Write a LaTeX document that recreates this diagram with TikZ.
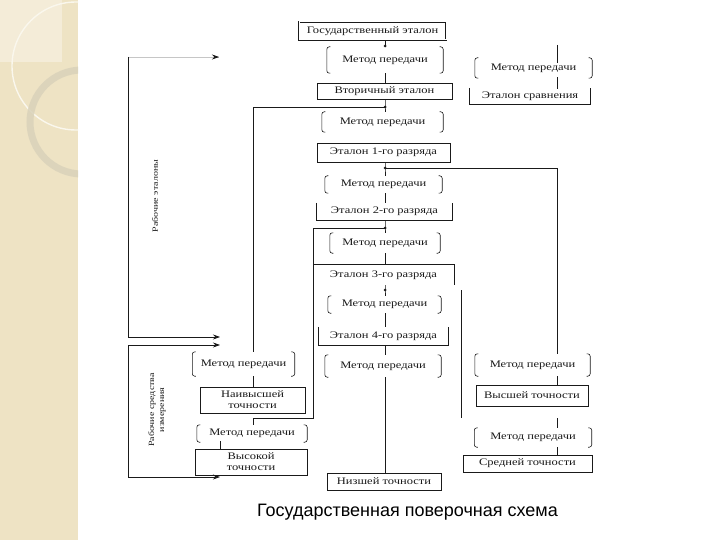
\documentclass[tikz,border=0pt]{standalone}
\usepackage{fontspec}
\setmainfont{Liberation Serif}
\newfontfamily\dg[FakeStretch=1.25]{Liberation Serif}
\newfontfamily\capfont{Liberation Sans}
\usetikzlibrary{arrows.meta}
\definecolor{strip}{HTML}{EEE3C4}
\definecolor{stripl}{HTML}{F4ECD8}
\definecolor{ringc}{HTML}{D9D2BA}
\definecolor{ln}{HTML}{1A1A1A}
\tikzset{
  txt/.style={inner sep=0pt, text=ln, font=\dg\fontsize{10}{11}\selectfont, align=center},
  box/.style={txt, draw=ln, line width=0.7pt},
  ubox/.style={txt},
  meth/.style={txt},
  brk/.style={draw=ln, line width=0.6pt, rounded corners=2.5pt},
  conn/.style={draw=ln, line width=0.7pt},
  jdot/.style={circle, fill=ln, inner sep=0pt, minimum size=3pt},
  arr/.style={conn, -{Stealth[length=7pt,width=5pt]}},
  lab/.style={inner sep=0pt, text=ln, font=\dg\fontsize{8}{10}\selectfont, align=center, rotate=90}
}
\begin{document}
\begin{tikzpicture}[x=1pt,y=-1pt]
\useasboundingbox (0,0) rectangle (720,540);
\fill[white] (0,0) rectangle (720,540);
% decorative strip
\fill[strip] (0,0) rectangle (78,540);
\fill[stripl] (0,0) rectangle (62,62);
\begin{scope}
\clip (0,0) rectangle (78,540);
\draw[white!70!strip, line width=1.4pt] (76,66) circle (64);
\draw[ringc, line width=7pt, opacity=0.85] (82,122) circle (52);
\end{scope}

% boxes
\node[box, double, double distance=1pt, minimum width=147pt, minimum height=18pt] (gos) at (372.5,31) {Государственный эталон};
\node[meth, minimum width=116pt, minimum height=26pt] (m0) at (385,60) {Метод передачи};
\node[box, minimum width=135pt, minimum height=16pt] (vtor) at (384.5,91) {Вторичный эталон};
\node[meth, minimum width=117pt, minimum height=20pt] (mR) at (533.5,68) {Метод передачи};
\node[ubox, minimum width=120pt, minimum height=16pt] (sravn) at (530,96) {Эталон сравнения};
\node[meth, minimum width=121pt, minimum height=20pt] (m1) at (382.5,122) {Метод передачи};
\node[box, minimum width=133pt, minimum height=19pt] (e1) at (383.5,152.5) {Эталон 1-го разряда};
\node[meth, minimum width=117pt, minimum height=17pt] (m2) at (383.5,184.5) {Метод передачи};
\node[ubox, minimum width=135pt, minimum height=17pt] (e2) at (384.5,211.5) {Эталон 2-го разряда};
\node[meth, minimum width=110pt, minimum height=20pt] (m3) at (385,243) {Метод передачи};
\node[ubox, minimum width=141pt, minimum height=20pt] (e3) at (383.5,275) {Эталон 3-го разряда};
\node[meth, minimum width=113pt, minimum height=17pt] (m4) at (384.5,304.5) {Метод передачи};
\node[ubox, minimum width=129pt, minimum height=18pt] (e4) at (383.5,336) {Эталон 4-го разряда};
\node[meth, minimum width=116pt, minimum height=22pt] (m5) at (383,366) {Метод передачи};
\node[box, minimum width=114pt, minimum height=17pt] (nizsh) at (384,481.5) {Низшей точности};
\node[meth, minimum width=102pt, minimum height=24pt] (mL1) at (243.5,364) {Метод передачи};
\node[box, minimum width=105pt, minimum height=26pt] (naiv) at (252.5,400) {Наивысшей\\точности};
\node[meth, minimum width=110pt, minimum height=17pt] (mL2) at (252,433.5) {Метод передачи};
\node[box, minimum width=112pt, minimum height=26pt] (vysok) at (251,462) {Высокой\\точности};
\node[meth, minimum width=115pt, minimum height=22pt] (mR1) at (532.5,365) {Метод передачи};
\node[box, minimum width=112pt, minimum height=21pt] (vyssh) at (532,395.5) {Высшей точности};
\node[meth, minimum width=117pt, minimum height=19pt] (mR2) at (533,437.5) {Метод передачи};
\node[box, minimum width=129pt, minimum height=17pt] (sredn) at (527.5,463.5) {Средней точности};

% open boxes
\draw[conn] (sravn.north west) -- (sravn.south west) -- (sravn.south east) -- (sravn.north east);
\draw[conn] (e2.north west) -- (e2.south west) -- (e2.south east) -- (e2.north east);
\draw[conn] (e3.north west) -- (e3.north east) -- (e3.south east);
\draw[conn] (e4.north west) -- (e4.south west) -- (e4.south east) -- (e4.north east);

% brackets
\foreach \m in {m0,mR,m1,m2,m3,m4,m5,mL1,mL2,mR1,mR2}{
  \draw[brk] ([xshift=3.5pt]\m.north west) -- (\m.north west) -- (\m.south west) -- ([xshift=3.5pt]\m.south west);
  \draw[brk] ([xshift=-3.5pt]\m.north east) -- (\m.north east) -- (\m.south east) -- ([xshift=-3.5pt]\m.south east);
}

% coordinates
\coordinate (j1) at (385,107);
\coordinate (j2) at (385,168);
\coordinate (j3) at (385,228);
\coordinate (j4) at (385,290);
\coordinate (cL) at (253,107);
\coordinate (cR) at (557,168);
\coordinate (cM) at (313,228);
\coordinate (cM2) at (313,418);
\coordinate (cL2) at (253,418);
\coordinate (rt) at (557,45);
\coordinate (tR) at (557,418);
\coordinate (tk1) at (220,441);
\coordinate (tk2) at (220,449);
\coordinate (s1) at (461,290);
\coordinate (s2) at (461,418);

% main column
\draw[conn] (m0.north |- gos.south) -- (m0.north);
\node[jdot] (d0) at (385,46) {};
\draw[conn] (m0.south) -- (m0.south |- vtor.north);
\draw[conn] (j1 |- vtor.south) -- (j1) -- (j1 |- m1.north);
\node[jdot] (d1) at (j1) {};
\draw[conn] (j2 |- e1.south) -- (j2) -- (j2 |- m2.north);
\node[jdot] (d2) at (j2) {};
\draw[conn] (j2 |- m2.south) -- (j2 |- e2.north);
\draw[conn] (j3 |- e2.south) -- (j3) -- (j3 |- m3.north);
\node[jdot] (d3) at (j3) {};
\draw[conn] (j3 |- m3.south) -- (j3 |- e3.north);
\draw[conn] (j4 |- e3.south) -- (j4) -- (j4 |- m4.north);
\node[jdot] (d4) at (j4) {};
\draw[conn] (j4 |- m4.south) -- (j4 |- e4.north);
\draw[conn] (j4 |- e4.south) -- (j4 |- m5.north);
\draw[conn] (j4 |- m5.south) -- (j4 |- nizsh.north);

% right top branch
\draw[conn] (rt) -- ++(0,18);
\draw[conn] ([yshift=-1pt]rt |- sravn.north) -- ++(0,-12);

% left branch
\draw[conn] (j1) -- (cL) -- (cL |- mL1.north);
\draw[conn] (cL |- mL1.south) -- (cL |- naiv.north);
\draw[conn] (j3) -- (cM) -- (cM2) -- (cL2) -- (cL2 |- mL2.north);
\draw[conn] (tk1) -- (tk2);

% right branch
\draw[conn] (j2) -- (cR) -- (cR |- mR1.north);
\draw[conn] (cR |- mR1.south) -- (cR |- vyssh.north);
\draw[conn] (tR) -- (tR |- mR2.north);
\draw[conn] (cR |- mR2.south) -- (cR |- sredn.north);
\draw[conn] (s1) -- (s2);

% left brackets with arrows
\coordinate (a1) at (128,57);
\coordinate (a2) at (219,57);
\coordinate (a3) at (128,337);
\coordinate (a4) at (220,337);
\coordinate (b1) at (128,345);
\coordinate (b2) at (220,345);
\coordinate (b3) at (128,477);
\coordinate (b4) at (220,477);
\draw[conn, draw=ln!25] (a1) -- (a2);
\draw[arr] ([xshift=-2pt]a2) -- (a2);
\draw[arr] (a1) -- (a3) -- (a4);
\draw[arr] (b2 -| a1) -- (b2);
\draw[arr] (b2 -| a1) -- (b3) -- (b4);

\node[lab] (l1) at (155,196) {Рабочие эталоны};
\node[lab] (l2) at (157,410) {Рабочие средства\\измерения};

\node[inner sep=0pt, text=black, font=\capfont\fontsize{18}{20}\selectfont] (cap) at (407.5,512) {Государственная поверочная схема};
\end{tikzpicture}
\end{document}
